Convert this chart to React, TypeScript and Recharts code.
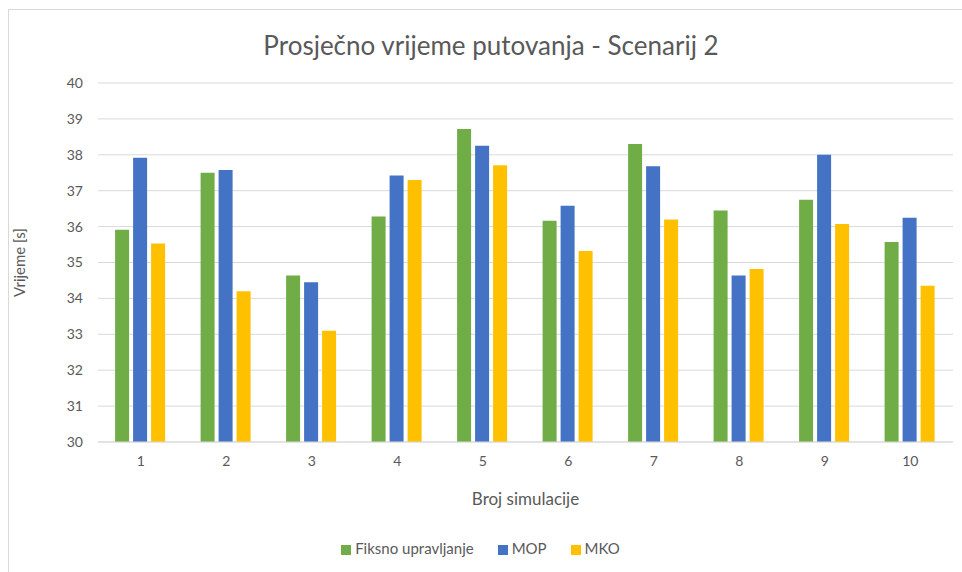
import { BarChart, Bar, XAxis, YAxis, CartesianGrid, Legend } from 'recharts';

// Broj simulacije 1..10
const simulations = ['1', '2', '3', '4', '5', '6', '7', '8', '9', '10'];

// Prosječno vrijeme putovanja [s] per scenario
const fiksno = [35.91, 37.5, 34.64, 36.28, 38.72, 36.16, 38.3, 36.45, 36.75, 35.57];
const mop = [37.92, 37.58, 34.45, 37.42, 38.25, 36.58, 37.68, 34.64, 38.0, 36.25];
const mko = [35.53, 34.2, 33.1, 37.3, 37.71, 35.32, 36.2, 34.82, 36.07, 34.35];

const yTicks = [30, 31, 32, 33, 34, 35, 36, 37, 38, 39, 40];
const seriesOrder = ['Fiksno upravljanje', 'MOP', 'MKO'];

const chartData = simulations.map((name, i) => ({
  name,
  fiksno: fiksno[i],
  mop: mop[i],
  mko: mko[i],
}));

const textColor = '#595959';
const font = 'Lato, "Open Sans", sans-serif';

export default function App() {
  return (
    <div style={{ position: 'absolute', left: 0, top: 0, width: 962, height: 572, background: '#fff', fontFamily: font, overflow: 'hidden' }}>
      {/* chart frame */}
      <div style={{ position: 'absolute', left: 8, top: 9, width: 980, height: 600, border: '1px solid #d9d9d9' }} />
      <div
        style={{
          position: 'absolute',
          left: 0,
          top: 29,
          width: 982,
          textAlign: 'center',
          fontSize: 26,
          lineHeight: '32px',
          color: textColor,
        }}
      >
        Prosječno vrijeme putovanja - Scenarij 2
      </div>
      <div style={{ position: 'absolute', left: 0, top: 0 }}>
        <BarChart
          width={962}
          height={572}
          data={chartData}
          margin={{ top: 83, right: 9, left: 18, bottom: 15 }}
          barCategoryGap="20%"
          barGap={4}
        >
          <CartesianGrid vertical={false} stroke="#d9d9d9" />
          <XAxis
            dataKey="name"
            axisLine={{ stroke: '#d9d9d9' }}
            tickLine={false}
            tickMargin={8}
            height={96}
            tick={{ fill: textColor, fontSize: 14, fontFamily: font }}
            label={{ value: 'Broj simulacije', position: 'insideBottom', offset: 33, fill: textColor, fontSize: 17, fontFamily: font }}
          />
          <YAxis
            domain={[30, 40]}
            ticks={yTicks}
            width={80}
            axisLine={false}
            tickLine={false}
            tickMargin={9}
            tick={{ fill: textColor, fontSize: 14, fontFamily: font }}
            label={{
              value: 'Vrijeme [s]',
              angle: -90,
              position: 'insideLeft',
              offset: 2,
              fill: textColor,
              fontSize: 15,
              fontFamily: font,
              style: { textAnchor: 'middle' },
            }}
          />
          <Legend
            verticalAlign="bottom"
            iconType="square"
            iconSize={10}
            itemSorter={(item: any) => seriesOrder.indexOf(item.value)}
            formatter={(value) => (
              <span
                style={{
                  color: textColor,
                  fontSize: 15,
                  fontFamily: font,
                  marginRight: value === 'MKO' ? 0 : 14,
                }}
              >
                {value}
              </span>
            )}
          />
          <Bar dataKey="fiksno" name="Fiksno upravljanje" fill="#70AD47" isAnimationActive={false} />
          <Bar dataKey="mop" name="MOP" fill="#4472C4" isAnimationActive={false} />
          <Bar dataKey="mko" name="MKO" fill="#FFC000" isAnimationActive={false} />
        </BarChart>
      </div>
    </div>
  );
}
